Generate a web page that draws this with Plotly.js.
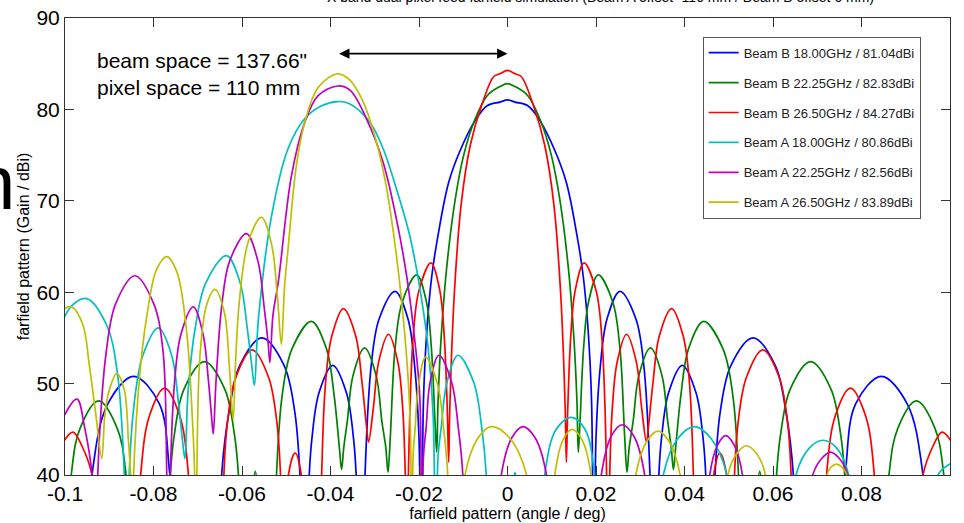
<!DOCTYPE html>
<html><head><meta charset="utf-8">
<script src="https://cdn.plot.ly/plotly-3.0.1.min.js"></script>
<style>html,body{margin:0;padding:0;background:#fff;} #chart{width:964px;height:523px;}</style>
</head><body><div id="chart"></div><script>
// ---- tick labels ----
const xTickVals = [-0.1,-0.08,-0.06,-0.04,-0.02,0,0.02,0.04,0.06,0.08,0.1];
const xTickText = ['-0.1','-0.08','-0.06','-0.04','-0.02','0','0.02','0.04','0.06','0.08','0.1'];
const yTickVals = [40,50,60,70,80,90];
const yTickText = ['40','50','60','70','80','90'];

// ---- series names ----
const seriesNames = ['Beam B 18.00GHz / 81.04dBi','Beam B 22.25GHz / 82.83dBi','Beam B 26.50GHz / 84.27dBi',
                     'Beam A 18.00GHz / 80.86dBi','Beam A 22.25GHz / 82.56dBi','Beam A 26.50GHz / 83.89dBi'];

// ---- Beam B 18.00 GHz (blue) ----
const beamB18_angle = [-0.1000,-0.0961,-0.0939,-0.0903,-0.0845,-0.0787,-0.0763,-0.0729,
 -0.0655,-0.0646,-0.0629,-0.0605,-0.0555,-0.0505,-0.0481,-0.0469,
 -0.0457,-0.0448,-0.0442,-0.0426,-0.0395,-0.0364,-0.0348,-0.0342,
 -0.0331,-0.0322,-0.0308,-0.0290,-0.0254,-0.0225,-0.0210,-0.0200,
 -0.0195,-0.0190,-0.0182,-0.0171,-0.0156,-0.0133,-0.0107,-0.0073,-0.0046,-0.0017,0,
 0.0017,0.0046,0.0073,0.0107,0.0133,0.0156,0.0171,0.0182,0.0190,0.0195,
 0.0200,0.0210,0.0225,0.0254,0.0290,0.0308,0.0322,0.0331,
 0.0342,0.0348,0.0364,0.0395,0.0426,0.0442,0.0448,0.0457,
 0.0469,0.0481,0.0505,0.0555,0.0605,0.0629,0.0646,0.0655,
 0.0729,0.0763,0.0787,0.0845,0.0903,0.0939,0.0961,0.1000];
const beamB18_gain = [20,20,40,47.8,50.8,47.8,40,20,
 20,40,47,52,55.0,52,47,40,
 20,40,44,49,52.0,49,44,40,
 20,40,52,57.1,60.1,57.1,52,44,
 20,48,56,61.8,66.5,72,75.5,78.8,80.4,80.8,81.04,
 80.8,80.4,78.8,75.5,72,66.5,61.8,56,48,20,
 44,52,57.1,60.1,57.1,52,40,20,
 40,44,49,52.0,49,44,40,20,
 40,47,52,55.0,52,47,40,20,
 20,40,47.8,50.8,47.8,40,20,20];

// ---- Beam B 22.25 GHz (green) ----
const beamB22_angle = [-0.1010,-0.0986,-0.0966,-0.0924,-0.0882,-0.0862,-0.0841,
 -0.0776,-0.0762,-0.0753,-0.0731,-0.0685,-0.0639,-0.0617,-0.0608,-0.0594,
 -0.0582,-0.0570,-0.0558,
 -0.0531,-0.0522,-0.0509,-0.0487,-0.0443,-0.0409,-0.0392,-0.0380,-0.0375,
 -0.0370,-0.0362,-0.0349,-0.0323,-0.0297,-0.0284,-0.0275,-0.0270,
 -0.0265,-0.0254,-0.0238,-0.0205,-0.0183,-0.0172,-0.0164,-0.0160,
 -0.0157,-0.0150,-0.0137,-0.0118,-0.0099,-0.0076,-0.0046,-0.0017,0,
 0.0017,0.0046,0.0076,0.0099,0.0118,0.0137,0.0150,0.0157,
 0.0160,0.0164,0.0172,0.0183,0.0205,0.0238,0.0254,0.0265,
 0.0270,0.0275,0.0284,0.0297,0.0323,0.0349,0.0362,0.0370,
 0.0375,0.0380,0.0392,0.0409,0.0443,0.0487,0.0509,0.0522,0.0531,
 0.0558,0.0570,0.0582,
 0.0594,0.0608,0.0617,0.0639,0.0685,0.0731,0.0753,0.0762,0.0776,
 0.0841,0.0862,0.0882,0.0924,0.0966,0.0986,0.1010];
const beamB22_gain = [20,40,45.1,48.1,45.1,40,20,
 20,40,44.4,49.4,52.4,49.4,44.4,40,20,
 32,40.4,32,
 20,40,48.8,53.8,56.8,53.8,48.8,43,40.6,
 43,45.9,50.9,53.9,50.9,45.9,43,40.3,
 44,53.9,58.9,61.9,58.9,53.9,46,42.5,
 48,55,62.9,70.2,75.0,78.6,81.5,82.5,82.83,
 82.5,81.5,78.6,75.0,70.2,62.9,55,48,
 42.5,46,53.9,58.9,61.9,58.9,53.9,44,
 40.3,43,45.9,50.9,53.9,50.9,45.9,43,
 40.6,43,48.8,53.8,56.8,53.8,48.8,40,20,
 32,40.4,32,
 20,40,44.4,49.4,52.4,49.4,44.4,40,20,
 20,40,45.1,48.1,45.1,40,20];

// ---- Beam B 26.50 GHz (red) ----
const beamB26_angle = [-0.1020,-0.1005,-0.0982,-0.0962,-0.0939,-0.0911,
 -0.0844,-0.0829,-0.0809,-0.0775,-0.0741,-0.0721,-0.0706,
 -0.0651,-0.0641,-0.0633,-0.0614,-0.0577,-0.0540,-0.0521,-0.0513,-0.0503,
 -0.0495,-0.0480,-0.0466,-0.0455,
 -0.0426,-0.0420,-0.0411,-0.0397,-0.0371,-0.0343,-0.0329,-0.0319,-0.0314,
 -0.0303,-0.0291,-0.0269,-0.0248,-0.0237,-0.0231,-0.0226,
 -0.0224,-0.0213,-0.0200,-0.0173,-0.0153,-0.0143,-0.0136,-0.0133,
 -0.0131,-0.0128,-0.0120,-0.0105,-0.0084,-0.0058,-0.0031,-0.0017,0,
 0.0017,0.0031,0.0058,0.0084,0.0105,0.0120,0.0128,0.0131,
 0.0133,0.0136,0.0143,0.0153,0.0173,0.0200,0.0213,0.0224,
 0.0226,0.0231,0.0237,0.0248,0.0269,0.0291,0.0303,
 0.0314,0.0319,0.0329,0.0343,0.0371,0.0397,0.0411,0.0420,0.0426,
 0.0455,0.0466,0.0480,0.0495,
 0.0503,0.0513,0.0521,0.0540,0.0577,0.0614,0.0633,0.0641,0.0651,
 0.0706,0.0721,0.0741,0.0775,0.0809,0.0829,0.0844,
 0.0911,0.0939,0.0962,0.0982,0.1005,0.1020];
const beamB26_gain = [41.5,43.5,44.7,43.2,40,20,
 20,40,46.5,49.5,46.5,40,20,
 20,40,45.7,50.7,53.7,50.7,45.7,40,20,
 40,42.4,40,20,
 20,40,50.2,55.2,58.2,55.2,50.2,45.5,43.6,
 47.4,52.4,55.4,52.4,47.4,40,20,
 40,55.2,60.2,63.2,60.2,55.2,47,41.4,
 46,51,60,69.5,76.1,80.5,83.6,83.9,84.27,
 83.9,83.6,80.5,76.1,69.5,60,51,46,
 41.4,47,55.2,60.2,63.2,60.2,55.2,40,
 20,40,47.4,52.4,55.4,52.4,47.4,
 43.6,45.5,50.2,55.2,58.2,55.2,50.2,40,20,
 20,40,42.4,40,
 20,40,45.7,50.7,53.7,50.7,45.7,40,20,
 20,40,46.5,49.5,46.5,40,20,
 20,40,43.2,44.7,43.5,41.5];

// ---- Beam A 18.00 GHz (cyan) ----
const beamA18_angle = [-0.1030,-0.1011,-0.0985,-0.0951,-0.0905,-0.0882,-0.0866,-0.0860,
 -0.0855,-0.0843,-0.0824,-0.0789,-0.0759,-0.0744,-0.0735,-0.0729,
 -0.0722,-0.0706,-0.0682,-0.0635,-0.0604,-0.0588,-0.0578,-0.0572,
 -0.0563,-0.0533,-0.0496,-0.0458,-0.0420,-0.0384,-0.0356,-0.0311,-0.0281,-0.0251,-0.0221,-0.0198,-0.0179,-0.0168,-0.0162,
 -0.0157,-0.0150,-0.0137,-0.0112,-0.0076,-0.0058,-0.0048,-0.0040,
 0.0005,0.0017,0.0030,
 0.0060,0.0084,0.0110,0.0144,0.0175,0.0197,0.0220,
 0.0325,0.0352,0.0385,0.0423,0.0460,0.0496,0.0525,
 0.0630,0.0652,0.0683,0.0713,0.0743,0.0771,0.0795,
 0.0950,0.0973,0.1000,0.1030];
const beamA18_gain = [50,56.0,58.5,59.3,56.3,51.3,40,20,
 40,48.1,53.1,56.1,53.1,48.1,44,41.8,
 49,56.0,61.0,64.0,61.0,56,52,49.8,
 57,68.4,75.7,79.0,80.4,80.86,80.6,78.6,75.7,71.3,66.2,60.4,53.8,46.5,20,
 42,45.1,50.1,53.1,50.1,45.1,40,20,
 30,40.3,30,
 20,40,45.0,46.3,45.0,40,20,
 20,40,44.0,45.3,44.0,40,20,
 20,40,43.0,43.8,43.0,40,20,
 20,40,41.2,42];

// ---- Beam A 22.25 GHz (magenta) ----
const beamA22_angle = [-0.1030,-0.1011,-0.0973,-0.0956,-0.0939,-0.0930,
 -0.0926,-0.0906,-0.0885,-0.0842,-0.0800,-0.0779,-0.0770,-0.0766,
 -0.0762,-0.0752,-0.0738,-0.0710,-0.0688,-0.0676,-0.0669,-0.0665,
 -0.0659,-0.0646,-0.0628,-0.0590,-0.0564,-0.0550,-0.0541,-0.0537,
 -0.0530,-0.0518,-0.0488,-0.0458,-0.0428,-0.0384,-0.0356,-0.0319,-0.0281,-0.0251,-0.0228,-0.0209,-0.0198,-0.0194,
 -0.0190,-0.0184,-0.0175,-0.0155,-0.0126,-0.0111,-0.0101,-0.0096,
 -0.0035,-0.0014,0.0010,0.0035,0.0062,0.0088,0.0110,
 0.0190,0.0212,0.0235,0.0259,0.0285,0.0310,0.0330,
 0.0440,0.0457,0.0475,0.0493,0.0512,0.0531,0.0548,
 0.0672,0.0690,0.0710,0.0730,0.0750,0.0769,0.0787,
 0.1000];
const beamA22_gain = [41,45.5,48.3,45.3,40,20,
 40,53.8,58.8,61.8,58.8,53.8,40,20,
 40,50.4,55.4,58.4,55.4,50.4,46.5,44.5,
 50,58.4,63.4,66.4,63.4,58.4,54.5,52.3,
 57.5,61.1,72.8,78.6,81.5,82.56,82.1,79.0,74.2,68.0,61.8,54.5,48.3,20,
 42,45.1,50.1,53.1,50.1,45.1,40,20,
 20,40,44.1,45.3,44.1,40,20,
 20,40,44.3,45.5,44.3,40,20,
 20,40,43.3,44.3,43.3,40,20,
 20,40,41.8,42.5,41.8,40,20,
 20];

// ---- Beam A 26.50 GHz (yellow) ----
const beamA26_angle = [-0.1030,-0.1011,-0.0985,-0.0960,-0.0945,-0.0930,-0.0917,
 -0.0910,-0.0900,-0.0883,-0.0866,-0.0857,-0.0852,-0.0849,
 -0.0845,-0.0830,-0.0815,-0.0793,-0.0770,-0.0747,-0.0725,-0.0712,-0.0707,-0.0705,
 -0.0702,-0.0695,-0.0680,-0.0661,-0.0640,-0.0628,-0.0620,
 -0.0614,-0.0605,-0.0586,-0.0556,-0.0533,-0.0520,-0.0511,
 -0.0504,-0.0496,-0.0477,-0.0458,-0.0428,-0.0384,-0.0356,-0.0326,-0.0296,-0.0273,-0.0251,-0.0236,-0.0224,-0.0219,-0.0217,
 -0.0213,-0.0209,-0.0201,-0.0185,-0.0158,-0.0144,-0.0135,-0.0130,
 -0.0115,-0.0096,-0.0066,-0.0036,0.0004,0.0043,0.0070,
 0.0090,0.0107,0.0126,0.0146,0.0168,0.0189,0.0210,
 0.0270,0.0290,0.0315,0.0340,0.0365,0.0390,0.0410,
 0.0480,0.0498,0.0519,0.0540,0.0562,0.0583,0.0600,
 0.0705,0.0722,0.0732,0.0743,0.0755,0.0767,0.0785,
 0.1000];
const beamA26_gain = [55,57.8,58.4,56.5,52,46.5,41.8,
 46.5,49.3,51.1,49.3,44,40,20,
 40,51.5,57.4,62.5,63.9,62.2,55.6,46,40,20,
 40,53.0,58.6,60.3,57.8,51.5,46.1,
 53,59.5,65.5,68.2,65.2,59.5,54.3,
 60.5,64.7,73.9,78.6,82.4,83.89,83.2,80.8,76.4,71.3,64.0,57.4,50.1,44,20,
 42.5,44.9,49.9,52.9,49.9,44.9,40,20,
 20,40,44.1,45.3,44.1,40,20,
 20,40,43.9,45.0,43.9,40,20,
 20,40,43.7,44.8,43.7,40,20,
 20,40,42.4,43.2,42.4,40,20,
 20,40,40.9,41.2,40.9,40,20,
 20];

const seriesX = [beamB18_angle, beamB22_angle, beamB26_angle, beamA18_angle, beamA22_angle, beamA26_angle];
const seriesY = [beamB18_gain, beamB22_gain, beamB26_gain, beamA18_gain, beamA22_gain, beamA26_gain];
const seriesColors = ['#0000ff','#008000','#ff0000','#00bfbf','#bf00bf','#bfbf00'];

const FONT = '"Liberation Sans", Arial, Helvetica, sans-serif';

const traces = seriesX.map((xs, i) => ({
  type: 'scatter', mode: 'lines', x: xs, y: seriesY[i], name: seriesNames[i],
  legendgroup: 'g' + i,
  line: {color: seriesColors[i], width: 1.7, shape: 'spline', smoothing: 1},
  hoverinfo: 'skip'
}));

const layout = {
  width: 964, height: 523,
  margin: {l: 65, r: 14, t: 18, b: 48, pad: 0},
  paper_bgcolor: '#ffffff', plot_bgcolor: '#ffffff',
  font: {family: FONT, color: '#000000'},
  showlegend: true,
  legend: {x: 0.7205, y: 0.959, xanchor: 'left', yanchor: 'top', bgcolor: '#ffffff',
           bordercolor: '#555555', borderwidth: 1, font: {family: FONT, size: 13, color: '#222222'},
           tracegroupgap: 10},
  xaxis: {range: [-0.1, 0.1], tickmode: 'array', tickvals: xTickVals, ticktext: xTickText,
          ticks: 'inside', ticklen: 9, tickcolor: '#333333', tickwidth: 1,
          showline: true, linecolor: '#333333', linewidth: 1, mirror: 'ticks',
          showgrid: false, zeroline: false, tickfont: {size: 21, color: '#000000'},
          title: {text: 'farfield pattern (angle / deg)', font: {size: 16, color: '#000000'}, standoff: 0}},
  yaxis: {range: [40, 90], tickmode: 'array', tickvals: yTickVals, ticktext: yTickText,
          ticks: 'inside', ticklen: 9, tickcolor: '#333333', tickwidth: 1,
          showline: true, linecolor: '#333333', linewidth: 1, mirror: 'ticks',
          showgrid: false, zeroline: false, tickfont: {size: 21, color: '#000000'},
          title: {text: 'farfield pattern (Gain / dBi)', font: {size: 16, color: '#000000'}, standoff: 2}},
  annotations: [
    {xref: 'paper', yref: 'paper', x: 0.6056, y: 1.046, xanchor: 'center', yanchor: 'middle', showarrow: false,
     text: 'X band dual pixel feed farfield simulation (Beam A offset -110 mm / Beam B offset 0 mm)',
     font: {size: 14, color: '#000000'}},
    {xref: 'paper', yref: 'paper', x: 0.034, y: 0.908, xanchor: 'left', yanchor: 'middle', showarrow: false,
     text: 'beam space = 137.66"', font: {size: 21, color: '#000000'}},
    {xref: 'paper', yref: 'paper', x: 0.034, y: 0.847, xanchor: 'left', yanchor: 'middle', showarrow: false,
     text: 'pixel space = 110 mm', font: {size: 21, color: '#000000'}},
    {xref: 'paper', yref: 'paper', x: -0.1062, y: 0.641, xanchor: 'left', yanchor: 'middle', showarrow: false,
     text: 'n', font: {size: 76, color: '#000000'}},
    {xref: 'x', yref: 'y', x: 0, y: 86.1, axref: 'x', ayref: 'y', ax: -0.0384, ay: 86.1, text: '',
     showarrow: true, arrowhead: 2, startarrowhead: 2, arrowside: 'end+start', arrowsize: 1.3, startarrowsize: 1.3,
     arrowwidth: 1.6, arrowcolor: '#000000', standoff: 0, startstandoff: 0}
  ]
};

Plotly.newPlot('chart', traces, layout, {displayModeBar: false, staticPlot: true});
</script></body></html>
